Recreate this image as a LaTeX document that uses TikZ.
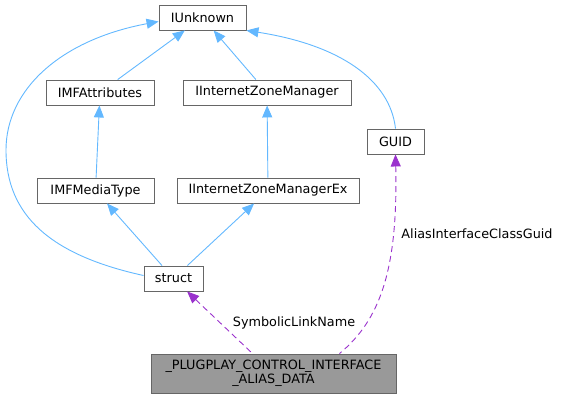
\documentclass[tikz,border=0pt]{standalone}
\usepackage{fontspec}
\setmainfont{DejaVu Sans}
\usepackage{xcolor}
\usetikzlibrary{arrows.meta,calc}
\definecolor{inhblue}{HTML}{63B8FF}
\definecolor{usepurple}{HTML}{9A32CD}
\definecolor{boxline}{HTML}{666666}
\definecolor{mainfill}{HTML}{999999}

\begin{document}
\begin{tikzpicture}[x=1pt,y=-1pt,
  font=\fontsize{12.8}{12}\selectfont, >={Triangle[length=12pt,width=10pt]},
  cls/.style={draw=boxline,fill=white,line width=0.9pt,minimum height=25pt,inner xsep=2pt,inner ysep=0pt},
  inh/.style={<-,draw=inhblue,line width=0.9pt},
  usage/.style={<-,draw=usepurple,line width=0.9pt,dash pattern=on 6pt off 4pt},
  lbl/.style={inner sep=1pt}]
  \useasboundingbox (0,0) rectangle (562,400);
  \node[cls,minimum width=87pt] (iunknown) at (202.5,17.5) {IUnknown};
  \node[cls,minimum width=108pt] (imfattr) at (100,92.5) {IMFAttributes};
  \node[cls,minimum width=168pt] (izm) at (267,92.5) {IInternetZoneManager};
  \node[cls,minimum width=57pt] (guid) at (395.5,141.5) {GUID};
  \node[cls,minimum width=117pt] (imfmedia) at (95.5,190.5) {IMFMediaType};
  \node[cls,minimum width=182pt] (izmex) at (268,190.5) {IInternetZoneManagerEx};
  \node[cls,minimum width=59pt] (struct) at (173.5,278.5) {struct};
  \node[cls,fill=mainfill,minimum width=245pt,minimum height=39pt,align=center] (plug) at (273.5,373.5)
    {\_PLUGPLAY\_CONTROL\_INTERFACE\\\_ALIAS\_DATA};
  % inheritance
  \draw[inh] (iunknown) -- (imfattr);
  \draw[inh] (iunknown) -- (izm);
  \draw[inh] (iunknown.south east) .. controls (340,45) and (390,80) .. (guid.north);
  \draw[inh] ([yshift=-4pt]iunknown.west) .. controls (60,40) and (6,90) .. (6,150)
    .. controls (6,215) and (50,255) .. ([yshift=3pt]struct.west);
  \draw[inh] (imfattr) -- (imfmedia);
  \draw[inh] (izm) -- (izmex);
  \draw[inh] (imfmedia) -- (struct);
  \draw[inh] (izmex) -- (struct);
  % members
  \draw[usage] (struct) -- (plug);
  \draw[usage] (guid.south) .. controls (398,270) and (380,320) .. ([xshift=66pt]plug.north);
  \node[lbl] (symlink) at (294,323) {SymbolicLinkName};
  \node[lbl] (aliasguid) at (477,234) {AliasInterfaceClassGuid};
\end{tikzpicture}
\end{document}
